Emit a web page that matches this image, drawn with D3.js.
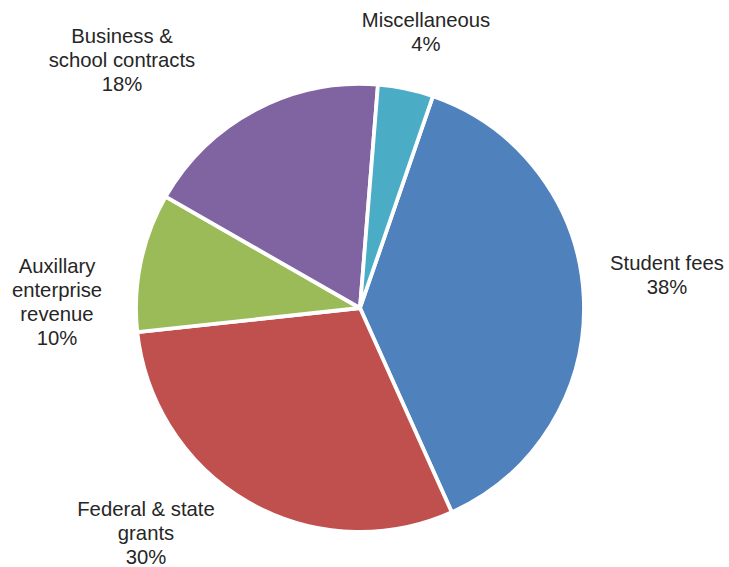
<!DOCTYPE html>
<html>
<head>
<meta charset="utf-8">
<script src="https://cdn.jsdelivr.net/npm/d3@7"></script>
<style>
  html, body { margin: 0; padding: 0; background: #fff; }
  svg { display: block; }
  text { font-family: "Liberation Sans", Arial, sans-serif; fill: #262626; }
</style>
</head>
<body>
<svg id="chart" width="729" height="567"></svg>
<script>
// Revenue sources, in percent of total
const categories = ["Student fees", "Federal & state grants", "Auxillary enterprise revenue", "Business & school contracts", "Miscellaneous"];
const values = [38, 30, 10, 18, 4];
const colors = ["#4F81BD", "#C0504D", "#9BBB59", "#8064A2", "#4BACC6"];
// Label lines for each slice (name lines, then the percentage is appended)
const labelLines = [
  ["Student fees"],
  ["Federal & state", "grants"],
  ["Auxillary", "enterprise", "revenue"],
  ["Business &", "school contracts"],
  ["Miscellaneous"]
];
// Label anchor (centre x, first baseline y) for each slice
const labelPos = [
  [667, 270],
  [146, 516],
  [57, 273],
  [122, 43],
  [426, 27]
];

const svg = d3.select("#chart");
const cx = 360, cy = 308, radius = 224;

const data = categories.map((c, i) => ({ name: c, value: values[i], color: colors[i], lines: labelLines[i], pos: labelPos[i] }));

const startDeg = 19;
const pie = d3.pie()
  .sort(null)
  .value(d => d.value)
  .startAngle(startDeg * Math.PI / 180)
  .endAngle((startDeg + 360) * Math.PI / 180);

const arc = d3.arc().innerRadius(0).outerRadius(radius);

const g = svg.append("g").attr("transform", `translate(${cx},${cy})`);

g.selectAll("path")
  .data(pie(data))
  .join("path")
  .attr("d", arc)
  .attr("fill", d => d.data.color)
  .attr("stroke", "#fff")
  .attr("stroke-width", 3.8)
  .attr("stroke-linejoin", "round");

const fmt = d3.format(".0%");
const lineH = 24;

const labels = svg.selectAll("text.label")
  .data(data)
  .join("text")
  .attr("class", "label")
  .attr("text-anchor", "middle")
  .attr("font-size", 20.3);

labels.each(function(d) {
  const t = d3.select(this);
  const all = d.lines.concat([fmt(d.value / 100)]);
  all.forEach((s, i) => {
    t.append("tspan")
      .attr("x", d.pos[0])
      .attr("y", d.pos[1] + i * lineH)
      .text(s);
  });
});
</script>
</body>
</html>
